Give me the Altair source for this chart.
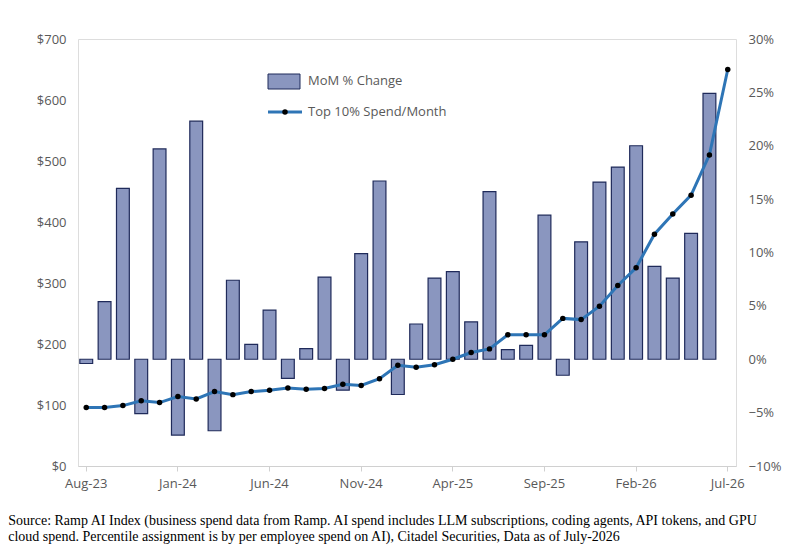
import pandas as pd
import altair as alt

MONTHS = ['Aug-23', 'Sep-23', 'Oct-23', 'Nov-23', 'Dec-23',
          'Jan-24', 'Feb-24', 'Mar-24', 'Apr-24', 'May-24', 'Jun-24', 'Jul-24',
          'Aug-24', 'Sep-24', 'Oct-24', 'Nov-24', 'Dec-24',
          'Jan-25', 'Feb-25', 'Mar-25', 'Apr-25', 'May-25', 'Jun-25', 'Jul-25',
          'Aug-25', 'Sep-25', 'Oct-25', 'Nov-25', 'Dec-25',
          'Jan-26', 'Feb-26', 'Mar-26', 'Apr-26', 'May-26', 'Jun-26', 'Jul-26']

# MoM % change (last month has no bar)
MOM_PCT = [-0.4, 5.4, 16.0, -5.1, 19.7,
           -7.1, 22.3, -6.7, 7.4, 1.4, 4.6, -1.8,
           1.0, 7.7, -2.9, 9.9, 16.7,
           -3.3, 3.3, 7.6, 8.2, 3.5, 15.7, 0.9,
           1.3, 13.5, -1.5, 11.0, 16.6,
           18.0, 20.0, 8.7, 7.6, 11.8, 24.9, None]

# Top 10% spend per month, $
SPEND = [96, 96, 99, 107, 104,
         114, 110, 122, 117, 122, 124, 128,
         126, 127, 134, 132, 143,
         165, 162, 166, 175, 186, 192, 215,
         215, 215, 242, 240, 262,
         296, 325, 380, 413, 444, 510, 650]

TICK_MONTHS = ['Aug-23', 'Jan-24', 'Jun-24', 'Nov-24', 'Apr-25', 'Sep-25', 'Feb-26', 'Jul-26']

SOURCE = ['Source: Ramp AI Index (business spend data from Ramp. AI spend includes LLM subscriptions, coding agents, API tokens, and GPU',
          'cloud spend. Percentile assignment is by per employee spend on AI), Citadel Securities, Data as of July-2026']

df = pd.DataFrame({'month': MONTHS,
                   'pct': [None if v is None else v / 100 for v in MOM_PCT],
                   'spend': SPEND})

FONT = 'Open Sans'
GREY = '#595959'
BAR_FILL = '#8a96bf'
BAR_EDGE = '#1f2a5a'

x = alt.X('month:N', sort=MONTHS, title=None,
          scale=alt.Scale(paddingInner=0.3, paddingOuter=0.1),
          axis=alt.Axis(values=TICK_MONTHS, labelAngle=0, ticks=True, tickSize=5,
                        tickColor='#d0d0d0', domain=True, domainColor='#d0d0d0',
                        labelPadding=6, labelColor=GREY,
                        labelFontSize=13, labelFont=FONT))

base = alt.Chart(df)

bars = base.transform_filter('isValid(datum.pct)').mark_bar(
    color=BAR_FILL, stroke=BAR_EDGE, strokeWidth=1.2
).encode(
    x=x,
    y=alt.Y('pct:Q', title=None,
            scale=alt.Scale(domain=[-0.1, 0.3], nice=False),
            axis=alt.Axis(orient='right', format='.0%',
                          values=[-0.1, -0.05, 0, 0.05, 0.1, 0.15, 0.2, 0.25, 0.3],
                          grid=False, ticks=False, domain=False, labelColor=GREY,
                          labelFontSize=13, labelFont=FONT, labelPadding=12)),
    y2=alt.datum(0),
)

line = base.mark_line(color='#2e75b6', strokeWidth=3).encode(
    x=x,
    y=alt.Y('spend:Q', title=None,
            scale=alt.Scale(domain=[0, 700], nice=False),
            axis=alt.Axis(orient='left', format='$,.0f', values=list(range(0, 701, 100)),
                          grid=False, ticks=False, domain=False, labelColor=GREY,
                          labelFontSize=13, labelFont=FONT, labelPadding=12)),
)
dots = base.mark_point(filled=True, color='black', size=30, opacity=1).encode(
    x=x, y=alt.Y('spend:Q', scale=alt.Scale(domain=[0, 700], nice=False), axis=None))

# legend
leg = pd.DataFrame({'label': ['MoM % Change', 'Top 10% Spend/Month']})
one = alt.Chart(leg).transform_filter('datum.label == "MoM % Change"')
two = alt.Chart(leg).transform_filter('datum.label != "MoM % Change"')
leg_bar = one.mark_rect(color=BAR_FILL, stroke=BAR_EDGE).encode(
    x=alt.value(190), x2=alt.value(222), y=alt.value(35), y2=alt.value(50))
leg_line = two.mark_rule(color='#2e75b6', strokeWidth=3).encode(
    x=alt.value(190), x2=alt.value(224), y=alt.value(73))
leg_dot = two.mark_point(filled=True, color='black', size=30, opacity=1).encode(
    x=alt.value(207), y=alt.value(73))
txt = dict(align='left', baseline='middle', font=FONT, fontSize=13, color=GREY)
leg_t1 = one.mark_text(**txt).encode(x=alt.value(230), y=alt.value(42), text='label:N')
leg_t2 = two.mark_text(**txt).encode(x=alt.value(230), y=alt.value(73), text='label:N')

chart = alt.layer(
    bars, line, dots, leg_bar, leg_line, leg_dot, leg_t1, leg_t2,
).resolve_scale(y='independent').properties(
    width=658, height=427, padding={'top': 25, 'left': 0, 'right': 5, 'bottom': 5},
    title=alt.TitleParams(text=SOURCE, orient='bottom', anchor='start', font='Liberation Serif',
                          fontSize=14, fontWeight='normal', color='black', offset=24,
                          lineHeight=16, dx=-28),
).configure_view(stroke=None).configure(background='white')

chart.save('out.html', embed_options={'renderer': 'svg', 'actions': False})
